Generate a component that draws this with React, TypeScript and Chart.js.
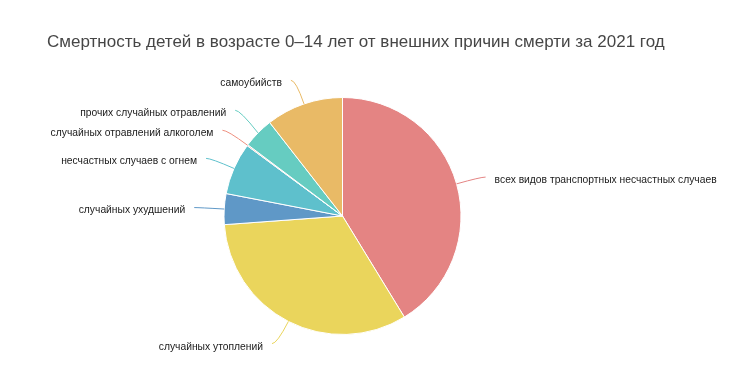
import React, { useEffect, useRef } from 'react';
import { Chart, registerables } from 'chart.js';

Chart.register(...registerables);

const titleText = 'Смертность детей в возрасте 0–14 лет от внешних причин смерти за 2021 год';

const categories = [
  'всех видов транспортных несчастных случаев',
  'случайных утоплений',
  'случайных ухудшений',
  'несчастных случаев с огнем',
  'случайных отравлений алкоголем',
  'прочих случайных отравлений',
  'самоубийств',
];

const values = [41.25, 32.57, 4.2, 7.08, 0.15, 4.2, 10.53];

const sliceColors = ['#e48483', '#ead55c', '#5f98c7', '#5ec0cc', '#ee8f7f', '#66ccc1', '#e9ba66'];

const LEN1 = 25;
const LEN2 = 5;
const GAP = 20;
const TEXT_GAP = 9;

const labelPlugin = {
  id: 'pieLabels',
  afterDraw(chart: any) {
    const ctx = chart.ctx as CanvasRenderingContext2D;
    ctx.save();
    ctx.font = '17px "Liberation Sans", sans-serif';
    ctx.fillStyle = '#464646';
    ctx.textBaseline = 'alphabetic';
    ctx.textAlign = 'left';
    ctx.fillText(titleText, 47, 47);

    const meta = chart.getDatasetMeta(0);
    const items = meta.data.map((arc: any, i: number) => {
      const { x, y, startAngle, endAngle, outerRadius } = arc.getProps(
        ['x', 'y', 'startAngle', 'endAngle', 'outerRadius'],
        true
      );
      const mid = (startAngle + endAngle) / 2;
      const c = Math.cos(mid);
      const s = Math.sin(mid);
      return {
        i,
        p0: { x: x + c * outerRadius, y: y + s * outerRadius },
        p1: { x: x + c * (outerRadius + LEN1), y: y + s * (outerRadius + LEN1) },
        right: c >= 0,
        ly: y + s * (outerRadius + LEN1),
      };
    });

    [true, false].forEach((side) => {
      const list = items.filter((it: any) => it.right === side).sort((a: any, b: any) => b.ly - a.ly);
      for (let k = 1; k < list.length; k++) {
        if (list[k].ly > list[k - 1].ly - GAP) list[k].ly = list[k - 1].ly - GAP;
      }
    });

    ctx.font = '10.3px "Liberation Sans", sans-serif';
    ctx.textBaseline = 'middle';
    items.forEach((it: any) => {
      const dir = it.right ? 1 : -1;
      const p2x = it.p1.x + dir * LEN2;
      ctx.beginPath();
      ctx.strokeStyle = sliceColors[it.i];
      ctx.lineWidth = 1;
      ctx.moveTo(it.p0.x, it.p0.y);
      ctx.quadraticCurveTo(it.p1.x, it.ly, p2x, it.ly);
      ctx.stroke();
      ctx.fillStyle = '#1a1a1a';
      ctx.textAlign = it.right ? 'left' : 'right';
      ctx.fillText(categories[it.i], p2x + dir * TEXT_GAP, it.ly + 3);
    });
    ctx.restore();
  },
};

export default function App() {
  const ref = useRef<HTMLCanvasElement>(null);
  useEffect(() => {
    if (!ref.current) return;
    const chart = new Chart(ref.current, {
      type: 'pie',
      data: {
        labels: categories,
        datasets: [
          {
            data: values,
            backgroundColor: sliceColors,
            borderColor: '#ffffff',
            borderWidth: 1,
          },
        ],
      },
      options: {
        animation: false,
        responsive: true,
        maintainAspectRatio: false,
        layout: { padding: { left: 223.5, right: 278.5, top: 97, bottom: 48 } },
        plugins: {
          legend: { display: false },
          tooltip: { enabled: false },
          title: { display: false },
        },
      },
      plugins: [labelPlugin],
    });
    return () => chart.destroy();
  }, []);
  return (
    <div style={{ position: 'fixed', left: 0, top: 0, width: 740, height: 383, background: '#fff' }}>
      <canvas ref={ref} />
    </div>
  );
}
